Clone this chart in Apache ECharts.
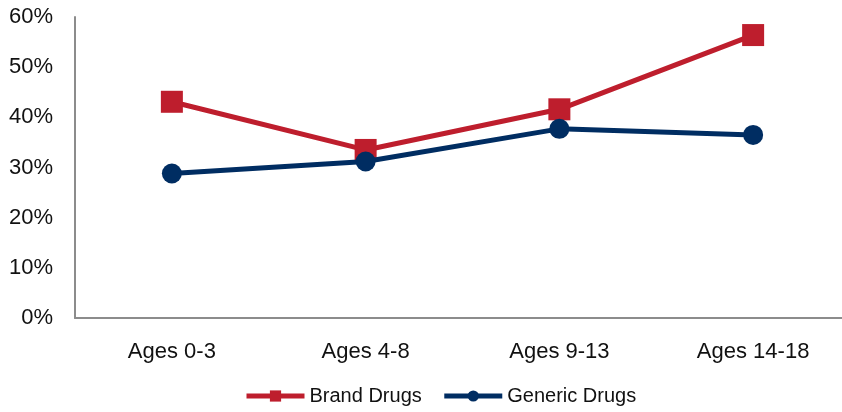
<!DOCTYPE html>
<html>
<head>
<meta charset="utf-8">
<script src="https://cdn.jsdelivr.net/npm/echarts@6/dist/echarts.min.js"></script>
<style>
  html, body { margin: 0; padding: 0; background: #fff; overflow: hidden; }
  #chart { width: 852px; height: 412px; }
</style>
</head>
<body>
<div id="chart"></div>
<script>
// Age groups along the x axis
const categories = ['Ages 0-3', 'Ages 4-8', 'Ages 9-13', 'Ages 14-18'];
// Percent values per age group
const brandDrugs = [43.1, 33.5, 41.6, 56.4];
const genericDrugs = [28.8, 31.2, 37.7, 36.5];
// Y axis range (percent)
const yMin = 0, yMax = 60, yStep = 10;

const chart = echarts.init(document.getElementById('chart'), null, { renderer: 'canvas' });
const font = '"Liberation Sans", Arial, sans-serif';

chart.setOption({
  animation: false,
  backgroundColor: '#ffffff',
  // the plot runs a little past the right edge of the visible page
  grid: { left: 75, top: 17, width: 775, height: 301, containLabel: false },
  legend: {
    top: 381,
    left: 239,
    itemWidth: 58,
    itemHeight: 14,
    itemGap: 20,
    lineStyle: { width: 5 },
    textStyle: { fontFamily: font, fontSize: 20, color: '#111' },
    data: ['Brand Drugs', 'Generic Drugs']
  },
  xAxis: {
    type: 'category',
    data: categories,
    boundaryGap: true,
    axisLine: { lineStyle: { color: '#8c8c8c', width: 2 } },
    axisTick: { show: false },
    axisLabel: { fontFamily: font, fontSize: 22, color: '#111', margin: 23 },
    splitLine: { show: false }
  },
  yAxis: {
    type: 'value',
    min: yMin,
    max: yMax,
    interval: yStep,
    axisLine: { show: true, lineStyle: { color: '#8c8c8c', width: 2 } },
    axisTick: { show: false },
    splitLine: { show: false },
    axisLabel: {
      formatter: v => v + '%',
      fontFamily: font,
      fontSize: 22,
      color: '#111',
      margin: 22
    }
  },
  series: [
    {
      name: 'Brand Drugs',
      type: 'line',
      data: brandDrugs,
      symbol: 'rect',
      symbolSize: 22,
      lineStyle: { color: '#BE1E2D', width: 5 },
      itemStyle: { color: '#BE1E2D' },
      z: 2
    },
    {
      name: 'Generic Drugs',
      type: 'line',
      data: genericDrugs,
      symbol: 'circle',
      symbolSize: 20,
      lineStyle: { color: '#002D62', width: 5 },
      itemStyle: { color: '#002D62' },
      z: 3
    }
  ]
});
</script>
</body>
</html>
